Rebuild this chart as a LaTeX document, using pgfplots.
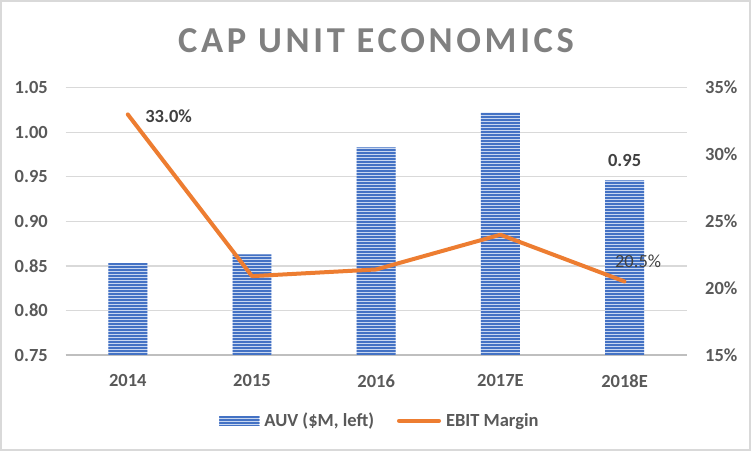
\documentclass[border=0pt]{standalone}
\usepackage{pgfplots}
\pgfplotsset{compat=1.18}
\usepackage{fontspec}
\setmainfont{Carlito}
\newfontfamily\titlefont[LetterSpace=10]{Carlito}
\usetikzlibrary{patterns}

\definecolor{barblue}{HTML}{4472C4}
\definecolor{barlight}{HTML}{C9D7F0}
\definecolor{lineorange}{HTML}{ED7D31}
\definecolor{gridgray}{HTML}{D9D9D9}
\definecolor{axisgray}{HTML}{BFBFBF}
\definecolor{labelgray}{HTML}{595959}
\definecolor{titlegray}{HTML}{808080}
\definecolor{datagray}{HTML}{404040}

\newcommand{\lbl}{\fontsize{18.5bp}{22bp}\selectfont\bfseries}
\newcommand{\lblr}{\fontsize{18.5bp}{22bp}\selectfont}

% wide tiles, stripe in the middle of each tile so the seams fall in the gaps
\pgfdeclarepatternformonly{hstripes}{\pgfqpoint{-1bp}{0bp}}{\pgfqpoint{201bp}{3bp}}{\pgfqpoint{200bp}{3bp}}{
  \pgfpathrectangle{\pgfqpoint{-1bp}{0.5bp}}{\pgfqpoint{202bp}{2bp}}\pgfusepath{fill}}

\tikzset{stripes/.style={fill=barlight,
  postaction={pattern=hstripes, pattern color=barblue}}}

\pgfplotsset{common/.style={
  at={(65.7bp,97bp)}, anchor=south west,
  scale only axis, width=621bp, height=267.3bp,
  xmin=-0.5, xmax=4.5,
  major tick length=0pt,
  ticklabel style={font=\lbl, text=labelgray, inner sep=0pt},
}}

\begin{document}
\begin{tikzpicture}
\useasboundingbox (0,0) rectangle (752bp,452bp);
\draw[gridgray, line width=1.3bp] (1bp,2bp) rectangle (750bp,451bp);

\begin{axis}[common,
  ymin=0.75, ymax=1.05,
  xtick={0,1,2,3,4}, xticklabels={2014,2015,2016,2017E,2018E},
  ytick={0.75,0.8,0.85,0.9,0.95,1,1.05},
  yticklabels={0.75,0.80,0.85,0.90,0.95,1.00,1.05},
  axis x line*=bottom, axis y line*=left,
  x axis line style={draw=axisgray, line width=1.8bp, -},
  y axis line style={draw=none},
  ymajorgrids, grid style={draw=gridgray, line width=1.3bp},
  yticklabel style={anchor=east, xshift=-17.7bp},
  xticklabel style={anchor=north, yshift=-19.5bp},
  legend style={draw=none, fill=none, at={(0.5045,-0.246)}, anchor=center,
    font=\lbl, text=labelgray, nodes={inner sep=0pt},
    /tikz/every odd column/.append style={column sep=5bp},
    /tikz/every even column/.append style={column sep=23bp}},
  legend columns=2, legend cell align=left,
]
\addplot[ybar, bar width=0.314, draw=none, stripes,
  legend image code/.code={\path[stripes] (0bp,-4.85bp) rectangle (40bp,4.85bp);}]
  coordinates {(0,0.853) (1,0.863) (2,0.983) (3,1.022) (4,0.946)};
\addlegendentry{AUV (\$M, left)}
\addlegendimage{legend image code/.code={\draw[lineorange, line width=4bp, line cap=round] (2bp,0bp) -- (42bp,0bp);}}
\addlegendentry{EBIT Margin}
\addplot[draw=none, mark=none, forget plot, nodes near coords, point meta=explicit symbolic,
  nodes near coords style={font=\lbl, text=datagray, anchor=center, yshift=19.5bp, inner sep=0pt}]
  coordinates {(4,0.946) [0.95]};
\end{axis}

\begin{axis}[common,
  ymin=15, ymax=35,
  ytick={15,20,25,30,35}, yticklabels={15\%,20\%,25\%,30\%,35\%},
  axis x line=none, axis y line*=right,
  y axis line style={draw=none},
  yticklabel style={anchor=west, xshift=18.3bp},
  clip=false,
]
\addplot[lineorange, line width=4bp, line join=round, line cap=round, mark=none]
  coordinates {(0,33.0) (1,20.9) (2,21.4) (3,24.0) (4,20.5)};
\addplot[draw=none, mark=none, nodes near coords, point meta=explicit symbolic,
  nodes near coords style={font=\lbl, text=datagray, anchor=west, xshift=17.3bp, yshift=-2bp, inner sep=0pt}]
  coordinates {(0,33.0) [33.0\%]};
\addplot[draw=none, mark=none, nodes near coords, point meta=explicit symbolic,
  nodes near coords style={font=\lblr, text=datagray, anchor=center, xshift=13.5bp, yshift=20.4bp, inner sep=0pt}]
  coordinates {(4,20.5) [20.5\%]};
\end{axis}

\node[font=\titlefont\fontsize{36.5bp}{40bp}\selectfont\bfseries, text=titlegray, inner sep=0pt]
  at (376bp,411.5bp) {CAP UNIT ECONOMICS};
\end{tikzpicture}
\end{document}
